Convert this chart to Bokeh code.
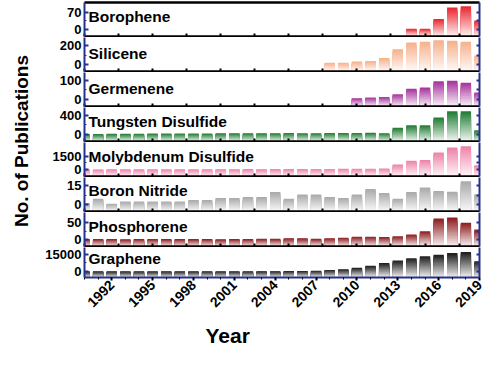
import math
from bokeh.plotting import figure
from bokeh.layouts import row, column
from bokeh.models import (Range1d, LinearAxis, FixedTicker, SingleIntervalTicker,
                          Label, Title, ColumnDataSource)
from bokeh.embed import file_html
from bokeh.resources import INLINE

# ---------------- data ----------------
years = list(range(1990, 2020))
NA = None

borophene = [NA] * 24 + [4, 4, 42, 88, 93, 36]
silicene = [NA] * 18 + [21, 21, 33, 39, 71, 161, 232, 242, 258, 251, 242, 97]
germenene = [NA] * 20 + [8, 11, 14, 28, 56, 62, 94, 97, 87, 37]
tungsten_disulfide = [15, 12, 18, 20, 20, 22, 22, 24, 24, 26, 28, 30, 30, 28, 32,
                      34, 32, 32, 34, 36, 36, 38, 30, 140, 195, 195, 350, 480, 480, 90]
molybdenum_disulfide = [40, 35, 45, 40, 45, 45, 50, 50, 55, 55, 60, 60, 65, 60, 70,
                        75, 80, 85, 90, 95, 100, 110, 120, 570, 1000, 1070, 1900, 2440, 2600, 500]
boron_nitride = [1.4, 4.6, 0.7, 2.5, 2.5, 2.5, 2.5, 2.5, 3.7, 3.7, 5.3, 5.3, 6.0, 6.0, 10.0,
                 4.6, 8.0, 8.0, 6.0, 5.3, 8.0, 12.4, 9.2, 4.6, 10.0, 13.5, 10.8, 10.2, 18.4, 8.2]
phosphorene = [2, 2, 2, 1, 2, 2, 2, 2, 2, 2, 1, 2, 2, 3, 3,
               4, 4, 3, 4, 6, 9, 9, 8, 10, 15, 25, 62, 65, 50, 30]
graphene = [150, 150, 160, 150, 160, 170, 170, 180, 180, 190, 200, 210, 220, 250, 300,
            400, 500, 700, 1400, 1900, 3200, 5000, 7350, 9600, 11600, 13350, 14500, 16000, 16900, 8900]

names = ["Borophene", "Silicene", "Germenene", "Tungsten Disulfide",
         "Molybdenum Disulfide", "Boron Nitride", "Phosphorene", "Graphene"]
series = [borophene, silicene, germenene, tungsten_disulfide,
          molybdenum_disulfide, boron_nitride, phosphorene, graphene]
top_ticks = [70, 200, 100, 400, 1500, 15, 50, 15000]
year_minor_ticks = [1990 + 2.5 * j for j in range(12)]

# ---------------- styling ----------------
# where 0 and the top tick sit inside each panel (fraction of panel height)
zero_frac = [0.20, 0.20, 0.20, 0.20, 0.20, 0.20, 0.20, 0.20]
tick_frac = [0.72, 0.76, 0.775, 0.775, 0.60, 0.76, 0.70, 0.775]
bar_colors = ["#e8242c", "#f6b089", "#a6309c", "#1d7a30",
              "#ee80a8", "#a8a8a8", "#8c1a1d", "#1a1a1a"]
label_frac = [0.58, 0.53, 0.52, 0.58, 0.60, 0.63, 0.58, 0.62]

FONT = "Liberation Sans"
NAVY = "#26318f"
TITLE_W = 36
W = 448
LEFT_B = 48
RIGHT_B = 5
K = 16  # gradient slices per bar
FIRST_H, MID_H, FRAME_H, BOTTOM_B = 37, 35, 34, 73


def hex_rgb(h):
    h = h.lstrip("#")
    return tuple(int(h[i:i + 2], 16) for i in (0, 2, 4))


def mix(rgb, t):
    return "#%02x%02x%02x" % tuple(int(round(255 + (c - 255) * t)) for c in rgb)


def style_plain_axis(ax, color, width, tick_in):
    ax.axis_line_color = color
    ax.axis_line_width = width
    ax.major_tick_in = 0
    ax.major_tick_out = 0
    ax.minor_tick_in = tick_in
    ax.minor_tick_out = 0
    ax.minor_tick_line_color = color
    ax.minor_tick_line_width = 2
    ax.major_label_standoff = 0


x_range = Range1d(1990, 2019)
panels = []
n = len(names)
for i in range(n):
    first = i == 0
    last = i == n - 1
    T = top_ticks[i]
    f0, f1 = zero_frac[i], tick_frac[i]
    span = T / (f1 - f0)
    lo, hi = -f0 * span, (1 - f0) * span
    if first:
        h, mbt, mbb = FIRST_H, 2, 1
    elif last:
        h, mbt, mbb = FRAME_H + BOTTOM_B, 0, BOTTOM_B
    else:
        h, mbt, mbb = MID_H, 0, 1
    p = figure(width=W, height=h, x_range=x_range, y_range=Range1d(lo, hi),
               output_backend="svg", toolbar_location=None,
               min_border_left=LEFT_B, min_border_right=RIGHT_B,
               min_border_top=mbt, min_border_bottom=mbb,
               outline_line_color=None, background_fill_color="white",
               border_fill_color="white")
    p.grid.visible = False

    # gradient bars: stacked slices, darkest (full height) first
    rgb = hex_rgb(bar_colors[i])
    xs, tops, bots, cols = [], [], [], []
    for k in range(K, 0, -1):
        frac = k / K
        col = mix(rgb, 0.05 + 0.95 * ((k - 0.5) / K))
        for yr, v in zip(years, series[i]):
            if v is None:
                continue
            xs.append(yr)
            bots.append(lo)
            tops.append(lo + (v - lo) * frac)
            cols.append(col)
    src = ColumnDataSource(dict(x=xs, top=tops, bottom=bots, color=cols))
    p.vbar(x="x", top="top", bottom="bottom", width=0.76, fill_color="color",
           line_color=None, source=src)

    yax = p.yaxis[0]
    yax.ticker = FixedTicker(ticks=[0, T], minor_ticks=[T / 2])
    yax.axis_line_color = NAVY
    yax.axis_line_width = 2
    yax.major_tick_in = 4
    yax.major_tick_out = 0
    yax.major_tick_line_color = NAVY
    yax.major_tick_line_width = 2
    yax.minor_tick_in = 2
    yax.minor_tick_out = 0
    yax.minor_tick_line_color = NAVY
    yax.major_label_text_font = FONT
    yax.major_label_text_font_style = "bold"
    yax.major_label_text_font_size = "13px"
    yax.major_label_text_color = "black"
    yax.major_label_standoff = 3

    ryax = LinearAxis(ticker=FixedTicker(ticks=[], minor_ticks=[0, T / 2, T]))
    style_plain_axis(ryax, NAVY, 2, 3)
    p.add_layout(ryax, "right")

    xax = p.xaxis[0]
    if not last:
        xax.ticker = FixedTicker(ticks=[], minor_ticks=year_minor_ticks)
        style_plain_axis(xax, "black", 2.5, 3)
    else:
        xax.ticker = SingleIntervalTicker(interval=3, num_minor_ticks=3)
        xax.axis_line_color = NAVY
        xax.axis_line_width = 2
        xax.major_tick_in = 0
        xax.major_tick_out = 3
        xax.minor_tick_in = 0
        xax.minor_tick_out = 2
        xax.major_tick_line_width = 2
        xax.major_label_orientation = math.pi / 4
        xax.major_label_text_font = FONT
        xax.major_label_text_font_style = "bold"
        xax.major_label_text_font_size = "14px"
        xax.major_label_text_color = "black"
        xax.major_label_standoff = 2
        p.add_layout(Title(text="Year", align="left", offset=121, standoff=15,
                           text_font=FONT, text_font_style="bold",
                           text_font_size="21px", text_color="black"), "below")

    if first:
        tax = LinearAxis(ticker=FixedTicker(ticks=[], minor_ticks=[]))
        style_plain_axis(tax, "black", 2.5, 0)
        p.add_layout(tax, "above")

    p.add_layout(Label(x=1990, y=lo + label_frac[i] * (hi - lo), x_offset=4,
                       text=names[i], text_font=FONT, text_font_style="bold",
                       text_font_size="15.5px", text_baseline="middle",
                       text_color="black"))
    panels.append(p)

total_h = FIRST_H + MID_H * (n - 2) + FRAME_H + BOTTOM_B
panels_h = FIRST_H + MID_H * (n - 2) + FRAME_H
title = figure(width=TITLE_W, height=total_h, x_range=Range1d(0, 1),
               y_range=Range1d(0, total_h), output_backend="svg",
               toolbar_location=None, min_border=0, outline_line_color=None,
               x_axis_location=None, y_axis_location=None)
title.grid.visible = False
title.add_layout(Label(x=0.57, y=total_h - panels_h / 2, text="No. of Publications",
                       angle=math.pi / 2, text_align="center", text_baseline="middle",
                       text_font=FONT, text_font_style="bold", text_font_size="19px",
                       text_color="black"))

layout = row(title, column(*panels, spacing=0), spacing=0)
open("out.html", "w").write(file_html(layout, INLINE))
